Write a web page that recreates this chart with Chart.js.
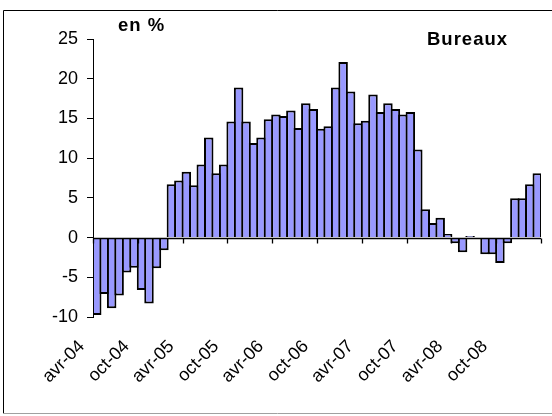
<!DOCTYPE html>
<html>
<head>
<meta charset="utf-8">
<script src="https://cdn.jsdelivr.net/npm/chart.js@4/dist/chart.umd.min.js"></script>
<style>
  html, body { margin: 0; padding: 0; background: #fff; }
  #wrap { position: relative; width: 552px; height: 416px; }
</style>
</head>
<body>
<div id="wrap"><canvas id="chart"></canvas></div>
<script>
// monthly categories, avr-04 .. mars-09
const categories = [
  'avr-04', 'mai-04', 'juin-04', 'juil-04', 'août-04', 'sept-04', 'oct-04', 'nov-04', 'déc-04',
  'janv-05', 'févr-05', 'mars-05', 'avr-05', 'mai-05', 'juin-05', 'juil-05', 'août-05', 'sept-05',
  'oct-05', 'nov-05', 'déc-05', 'janv-06', 'févr-06', 'mars-06', 'avr-06', 'mai-06', 'juin-06',
  'juil-06', 'août-06', 'sept-06', 'oct-06', 'nov-06', 'déc-06', 'janv-07', 'févr-07', 'mars-07',
  'avr-07', 'mai-07', 'juin-07', 'juil-07', 'août-07', 'sept-07', 'oct-07', 'nov-07', 'déc-07',
  'janv-08', 'févr-08', 'mars-08', 'avr-08', 'mai-08', 'juin-08', 'juil-08', 'août-08', 'sept-08',
  'oct-08', 'nov-08', 'déc-08', 'janv-09', 'févr-09', 'mars-09'
];

// Bureaux, en %
const bureaux = [
  -9.75, -7.1, -8.9, -7.3, -4.4, -3.8, -6.6, -8.3, -3.85, -1.6,
  6.7, 7.2, 8.3, 6.6, 9.2, 12.6, 8.1, 9.2, 14.6, 18.9,
  14.6, 11.9, 12.6, 14.9, 15.5, 15.3, 16.0, 13.8, 16.9, 16.2,
  13.7, 14.0, 18.9, 22.1, 18.4, 14.4, 14.7, 18.0, 15.8, 16.9,
  16.2, 15.5, 15.8, 11.1, 3.55, 1.85, 2.5, 0.45, -0.7, -1.85,
  0.2, 0, -2.1, -2.1, -3.2, -0.7, 4.95, 4.95, 6.7, 8.1
];

const yTicks = [-10, -5, 0, 5, 10, 15, 20, 25];
const labelEvery = 6;

const FONT = '"Liberation Sans", Arial, sans-serif';

// frame, zero line, free texts
const decor = {
  id: 'decor',
  beforeDraw(chart) {
    const c = chart.ctx;
    c.save();
    c.fillStyle = '#fff';
    c.fillRect(0, 0, chart.width, chart.height);
    c.strokeStyle = '#000';
    c.lineWidth = 1;
    c.beginPath();
    c.moveTo(3.5, 413);
    c.lineTo(3.5, 10.5);
    c.lineTo(chart.width, 10.5);
    c.stroke();
    c.strokeStyle = '#a0a0a0';
    c.beginPath();
    c.moveTo(3, 413.5);
    c.lineTo(chart.width, 413.5);
    c.stroke();
    c.restore();
  },
  afterDatasetsDraw(chart) {
    const c = chart.ctx, x = chart.scales.x, y = chart.scales.y, a = chart.chartArea;
    const y0 = Math.round(y.getPixelForValue(0)) + 0.5;
    const half = (x.getPixelForValue(1) - x.getPixelForValue(0)) / 2;
    c.save();
    c.strokeStyle = '#000';
    c.lineWidth = 1.3;
    c.beginPath();
    c.moveTo(a.left, y0);
    c.lineTo(a.right, y0);
    // tick marks between categories
    for (let i = 0; i <= categories.length; i += labelEvery) {
      const px = Math.round(x.getPixelForValue(Math.min(i, categories.length - 1)) + (i === categories.length ? half : -half)) + 0.5;
      c.moveTo(px, y0);
      c.lineTo(px, y0 + 5);
    }
    c.stroke();
    c.restore();
  },
  afterDraw(chart) {
    const c = chart.ctx;
    c.save();
    c.fillStyle = '#000';
    c.font = 'bold 18.5px ' + FONT;
    c.letterSpacing = '1px';
    c.textBaseline = 'alphabetic';
    c.fillText('en %', 118, 31);
    c.fillText('Bureaux', 427, 45);
    c.restore();
  }
};

new Chart(document.getElementById('chart'), {
  type: 'bar',
  data: {
    labels: categories,
    datasets: [{
      label: 'Bureaux',
      data: bureaux,
      backgroundColor: '#9999ff',
      borderColor: '#000',
      borderWidth: 2,
      borderSkipped: 'start',
      barPercentage: 1.27,
      categoryPercentage: 1
    }]
  },
  options: {
    responsive: true,
    maintainAspectRatio: false,
    animation: false,
    events: [],
    layout: {padding: {top: 39, right: 11, left: 0, bottom: 0}},
    plugins: {legend: {display: false}, tooltip: {enabled: false}},
    scales: {
      x: {
        offset: true,
        grid: {display: false, drawTicks: false},
        border: {display: false},
        ticks: {
          autoSkip: false,
          minRotation: 45,
          maxRotation: 45,
          padding: 19,
          labelOffset: -15,
          color: '#000',
          font: {family: FONT, size: 18},
          callback: function (v, i) { return i % labelEvery === 0 ? this.getLabelForValue(v) : ''; }
        },
        afterFit: s => { s.height = 99; s.paddingLeft = 0; s.paddingRight = 0; }
      },
      y: {
        min: -10,
        max: 25,
        afterBuildTicks: s => { s.ticks = yTicks.map(v => ({value: v})); },
        grid: {
          color: 'rgba(0,0,0,0)',
          tickColor: '#000',
          tickLength: 6,
          drawTicks: true
        },
        border: {display: true, color: '#000', width: 1},
        ticks: {
          padding: 9,
          color: '#000',
          font: {family: FONT, size: 18}
        },
        afterFit: s => { s.width = 93; }
      }
    }
  },
  plugins: [decor]
});
</script>
</body>
</html>
